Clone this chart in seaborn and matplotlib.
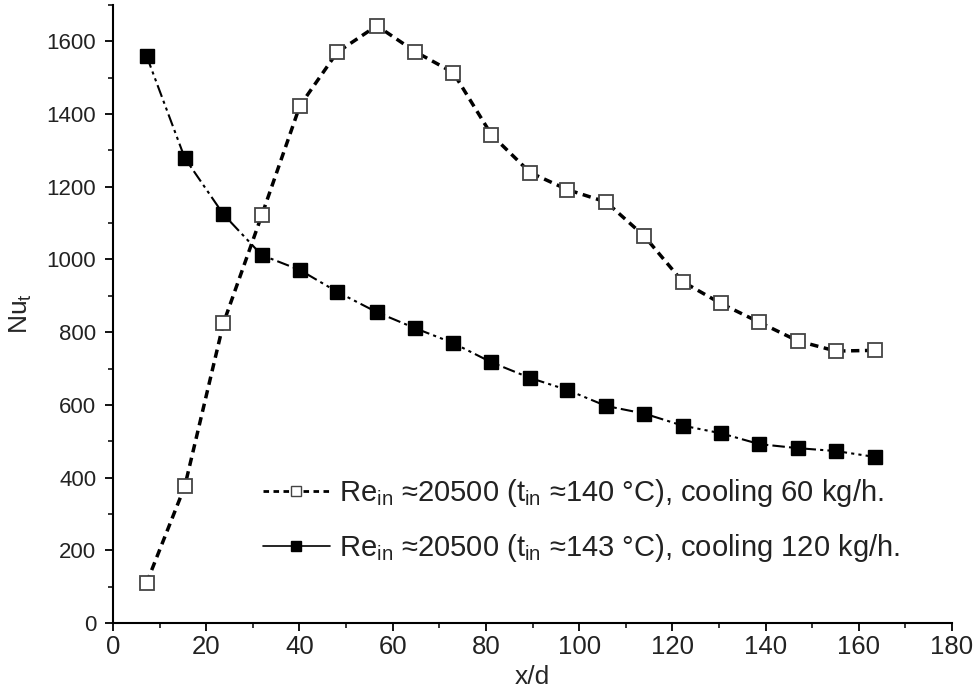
import matplotlib
matplotlib.use("Agg")
import matplotlib.pyplot as plt
from matplotlib.lines import Line2D
from matplotlib import font_manager
from matplotlib.ticker import MultipleLocator
import numpy as np
import pandas as pd
import seaborn as sns

# ---- data ----
x_d = [7.2, 15.4, 23.7, 31.9, 40.1, 48.1, 56.6, 64.8, 73.0, 81.2,
       89.5, 97.5, 105.8, 114.0, 122.2, 130.4, 138.7, 146.9, 155.1, 163.4]
nu_60 = [110, 376, 825, 1121, 1423, 1570, 1643, 1572, 1514, 1343,
         1239, 1192, 1158, 1064, 939, 879, 827, 776, 748, 750]
nu_120 = [1560, 1279, 1124, 1012, 971, 911, 855, 811, 770, 717,
          674, 641, 597, 576, 543, 522, 492, 481, 473, 457]
labels = [r"Re$_{\mathrm{in}}$ ≈20500 (t$_{\mathrm{in}}$ ≈140 °C), cooling 60 kg/h.",
          r"Re$_{\mathrm{in}}$ ≈20500 (t$_{\mathrm{in}}$ ≈143 °C), cooling 120 kg/h."]
x_label = "x/d"
y_label = r"Nu$_{\mathrm{t}}$"

df60 = pd.DataFrame({"x": x_d, "nu": nu_60})
df120 = pd.DataFrame({"x": x_d, "nu": nu_120})

sns.set_theme(style="white")
names = {f.name for f in font_manager.fontManager.ttflist}
base = "Liberation Sans" if "Liberation Sans" in names else "DejaVu Sans"
narrow = "Liberation Sans Narrow" if "Liberation Sans Narrow" in names else base
plt.rcParams["font.family"] = [base, "DejaVu Sans"]
plt.rcParams["mathtext.fontset"] = "custom"
plt.rcParams["mathtext.rm"] = base
plt.rcParams["mathtext.it"] = base + ":italic"

fig = plt.figure(figsize=(9.73, 6.96), dpi=100)
ax = fig.add_axes([113 / 973, 1 - 623 / 696, (952 - 113) / 973, (623 - 5) / 696])

sns.lineplot(data=df120, x="x", y="nu", ax=ax, sort=False, errorbar=None,
             color="black", linewidth=1.5, linestyle=(0, (6, 2, 1.5, 2, 1.5, 2)),
             marker="s", markersize=9.8, markerfacecolor="black",
             markeredgecolor="black", markeredgewidth=1.0)
sns.lineplot(data=df60, x="x", y="nu", ax=ax, sort=False, errorbar=None,
             color="black", linewidth=2.5, linestyle=(0, (2.4, 1.6)),
             marker="s", markersize=9.8, markerfacecolor="white",
             markeredgecolor="#444444", markeredgewidth=1.3)

ax.set_xlim(0, 180)
ax.set_ylim(0, 1700)
ax.xaxis.set_major_locator(MultipleLocator(20))
ax.xaxis.set_minor_locator(MultipleLocator(10))
ax.yaxis.set_major_locator(MultipleLocator(200))
ax.yaxis.set_minor_locator(MultipleLocator(100))
ax.set_yticks([0, 200, 400, 600, 800, 1000, 1200, 1400, 1600])

for s in ["top", "right"]:
    ax.spines[s].set_visible(False)
for s in ["left", "bottom"]:
    ax.spines[s].set_linewidth(1.5)
    ax.spines[s].set_color("black")

ax.tick_params(which="major", direction="out", length=6, width=1.3,
               color="black", bottom=True, left=True)
ax.tick_params(which="minor", direction="out", length=3.5, width=1.1,
               color="black", bottom=True, left=True)
ax.tick_params(axis="y", labelsize=16, labelcolor="#222222", pad=6)
ax.tick_params(axis="x", labelsize=18.5, labelcolor="#222222", pad=3)
for t in ax.get_xticklabels():
    t.set_fontfamily([narrow, "DejaVu Sans"])

ax.set_xlabel(x_label, fontsize=19, family=[narrow, "DejaVu Sans"], labelpad=4)
ax.set_ylabel(y_label, fontsize=19, labelpad=9)
ax.grid(False)

handles = [
    Line2D([], [], color="black", linewidth=2.0, linestyle=(0, (2.0, 1.6)),
           marker="s", markersize=7, markerfacecolor="white",
           markeredgecolor="#444444", markeredgewidth=1.0),
    Line2D([], [], color="black", linewidth=1.2, linestyle="-",
           marker="s", markersize=7, markerfacecolor="black",
           markeredgecolor="black"),
]
leg = ax.legend(handles, labels, loc="upper left",
                bbox_to_anchor=(257 / 973, 1 - 471 / 696),
                bbox_transform=fig.transFigure, frameon=False,
                fontsize=21, handlelength=2.3, handletextpad=0.3,
                labelspacing=0.8, borderpad=0.2, borderaxespad=0)
for t in leg.get_texts():
    t.set_color("#222222")

fig.savefig("out.png", dpi=100, facecolor="white")
